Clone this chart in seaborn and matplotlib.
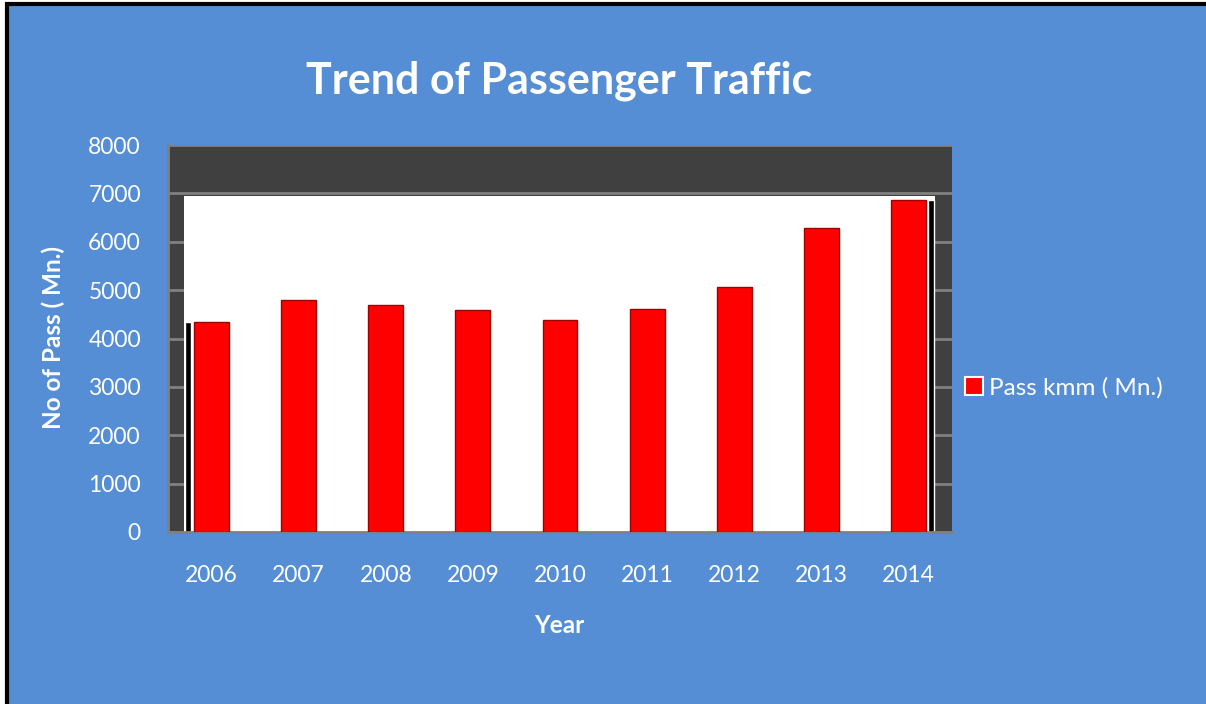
## Trend of Passenger Traffic - bar chart recreation

import matplotlib
matplotlib.use("Agg")
import matplotlib.pyplot as plt
from matplotlib.patches import Rectangle
import seaborn as sns

years = ["2006", "2007", "2008", "2009", "2010", "2011", "2012", "2013", "2014"]
pass_kmm = [4345, 4800, 4700, 4590, 4385, 4620, 5055, 6290, 6870]
y_ticks = [0, 1000, 2000, 3000, 4000, 5000, 6000, 7000, 8000]

BLUE = "#558ED5"
DARK = "#404040"
GRID = "#808080"

sns.set_style("white")
plt.rcParams["font.family"] = ["Lato", "DejaVu Sans"]

fig = plt.figure(figsize=(12.06, 7.04), dpi=100, facecolor="white")

# blue slide background with black border (runs off right / bottom edge)
fig.patches.append(Rectangle((7 / 1206, -0.05), 1.1, 1 - 4 / 704 + 0.05,
                             transform=fig.transFigure, facecolor=BLUE,
                             edgecolor="black", linewidth=3, zorder=-5))

ax = fig.add_axes([168 / 1206, 172 / 704, 784 / 1206, 387 / 704])
ax.set_facecolor(DARK)
ax.set_axisbelow(True)

sns.barplot(x=years, y=pass_kmm, color="#FF0000", width=0.4, saturation=1,
            edgecolor="#A00000", linewidth=1.0, ax=ax, label="Pass kmm ( Mn.)", zorder=3)

# white back wall over the grid
ax.add_patch(Rectangle((0.02, 0), 0.958, 0.868, transform=ax.transAxes,
                       facecolor="white", edgecolor="none", zorder=1))

# black side shadows next to first and last bars
ax.bar([-0.272], [pass_kmm[0]], width=0.065, color="black", zorder=2)
ax.bar([8.262], [pass_kmm[-1]], width=0.065, color="black", zorder=2)

ax.set_xlim(-0.5, len(years) - 0.5)
ax.set_ylim(0, 8000)
ax.set_yticks(y_ticks)
ax.yaxis.grid(True, color=GRID, linewidth=2)

for side in ["top", "right"]:
    ax.spines[side].set_visible(False)
for side in ["left", "bottom"]:
    ax.spines[side].set_color(GRID)
    ax.spines[side].set_linewidth(2)

ax.tick_params(axis="y", colors=GRID, length=6.5, width=2, direction="out",
               pad=13, labelcolor="white", labelsize=16.5)
ax.tick_params(axis="x", length=0, pad=24, labelcolor="white", labelsize=16.5)
ax.set_xlabel("")
ax.set_ylabel("")

leg = ax.legend(loc="center left", bbox_to_anchor=(0.995, 0.372), frameon=False,
                fontsize=17.5, handlelength=0.75, handleheight=0.75, handletextpad=0.25,
                borderaxespad=0.3)
for t in leg.get_texts():
    t.set_color("white")
for h in leg.legend_handles:
    h.set_edgecolor("white")
    h.set_linewidth(1.5)

fig.text(0.464, 0.886, "Trend of Passenger Traffic", color="white",
         fontsize=31, fontweight="bold", ha="center", va="center")
fig.text(0.044, 0.52, "No of Pass ( Mn.)", color="white", fontsize=17.5,
         fontweight="bold", rotation=90, ha="center", va="center")
fig.text(0.4635, 0.111, "Year", color="white", fontsize=17.5,
         fontweight="bold", ha="center", va="center")

plt.savefig("out.png", dpi=100, facecolor=fig.get_facecolor())
